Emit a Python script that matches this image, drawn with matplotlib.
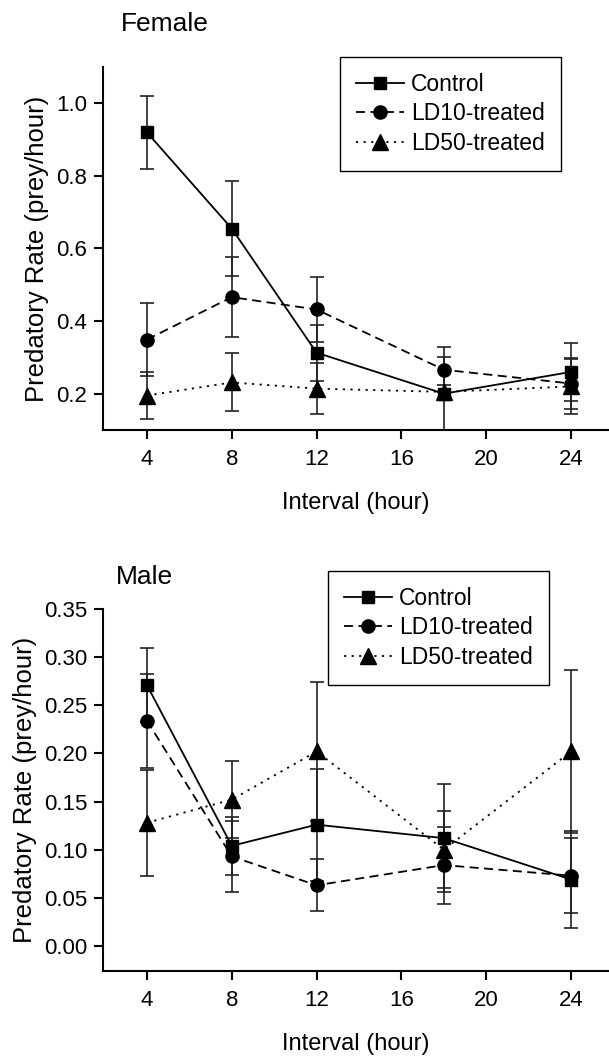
import matplotlib
matplotlib.use("Agg")
import matplotlib.pyplot as plt
from matplotlib.lines import Line2D

plt.rcParams['font.family'] = ['Liberation Sans', 'DejaVu Sans']

intervals = [4, 8, 12, 18, 24]
x_ticks = [4, 8, 12, 16, 20, 24]
series_labels = ["Control", "LD10-treated", "LD50-treated"]

female_control = [0.92, 0.655, 0.313, 0.20, 0.26]
female_control_err = [0.10, 0.13, 0.077, 0.10, 0.08]
female_ld10 = [0.349, 0.466, 0.432, 0.266, 0.228]
female_ld10_err = [0.10, 0.11, 0.09, 0.062, 0.07]
female_ld50 = [0.195, 0.231, 0.214, 0.205, 0.22]
female_ld50_err = [0.065, 0.08, 0.07, 0.02, 0.075]

male_control = [0.271, 0.104, 0.126, 0.112, 0.069]
male_control_err = [0.038, 0.03, 0.058, 0.056, 0.05]
male_ld10 = [0.234, 0.093, 0.063, 0.084, 0.073]
male_ld10_err = [0.049, 0.037, 0.027, 0.04, 0.039]
male_ld50 = [0.128, 0.152, 0.202, 0.10, 0.202]
male_ld50_err = [0.055, 0.04, 0.072, 0.04, 0.085]

W, H = 609, 1057
fig = plt.figure(figsize=(W / 100, H / 100), dpi=100)

styles = [('-', 's', 9), ((0, (5, 3)), 'o', 9.5), ((0, (1.2, 3)), '^', 11)]


def panel(rect, title, data, ylim, yticks, yfmt, title_xy, leg_xy):
    ax = fig.add_axes(rect)
    handles = []
    for (vals, errs), (ls, mk, ms), lab in zip(data, styles, series_labels):
        ax.errorbar(intervals, vals, yerr=errs, color='black', linestyle=ls,
                    marker=mk, markersize=ms, linewidth=1.3, elinewidth=1.2,
                    ecolor='#222222', capsize=5, capthick=1.2)
        handles.append(Line2D([], [], color='black', linestyle=ls, marker=mk,
                              markersize=ms, linewidth=1.3, label=lab))
    ax.set_xlim(1.93, 25.74)
    ax.set_ylim(*ylim)
    ax.set_xticks(x_ticks)
    ax.set_xticklabels([str(t) for t in x_ticks])
    ax.set_yticks(yticks)
    ax.set_yticklabels([yfmt.format(v) for v in yticks])
    for s in ['top', 'right']:
        ax.spines[s].set_visible(False)
    for s in ['left', 'bottom']:
        ax.spines[s].set_linewidth(1.5)
    ax.tick_params(axis='both', direction='out', length=6.5, width=1.5,
                   labelsize=16, pad=5)
    ax.tick_params(axis='x', pad=7)
    ax.set_xlabel("Interval (hour)", fontsize=17, labelpad=16)
    ax.set_ylabel("Predatory Rate (prey/hour)", fontsize=18.5, labelpad=5)
    fig.text(title_xy[0] / W, 1 - title_xy[1] / H, title, fontsize=19,
             ha='left', va='center')
    leg = ax.legend(handles=handles, loc='upper left',
                    bbox_to_anchor=(leg_xy[0] / W, 1 - leg_xy[1] / H),
                    bbox_transform=fig.transFigure, borderaxespad=0,
                    fontsize=16.5, frameon=True, fancybox=False, framealpha=1,
                    edgecolor='black', handlelength=2.1, handletextpad=0.3,
                    labelspacing=0.28, borderpad=0.7)
    leg.get_frame().set_linewidth(1.0)
    return ax


panel([103 / W, 1 - 430 / H, 505 / W, 363 / H], "Female",
      [(female_control, female_control_err), (female_ld10, female_ld10_err),
       (female_ld50, female_ld50_err)],
      (0.1, 1.1), [0.2, 0.4, 0.6, 0.8, 1.0], "{:.1f}", (121, 24), (340, 57))

panel([103 / W, 1 - 971 / H, 505 / W, 362 / H], "Male",
      [(male_control, male_control_err), (male_ld10, male_ld10_err),
       (male_ld50, male_ld50_err)],
      (-0.026, 0.35), [0.0, 0.05, 0.10, 0.15, 0.20, 0.25, 0.30, 0.35], "{:.2f}",
      (116, 577), (328, 571))

fig.savefig("out.png", dpi=100)
